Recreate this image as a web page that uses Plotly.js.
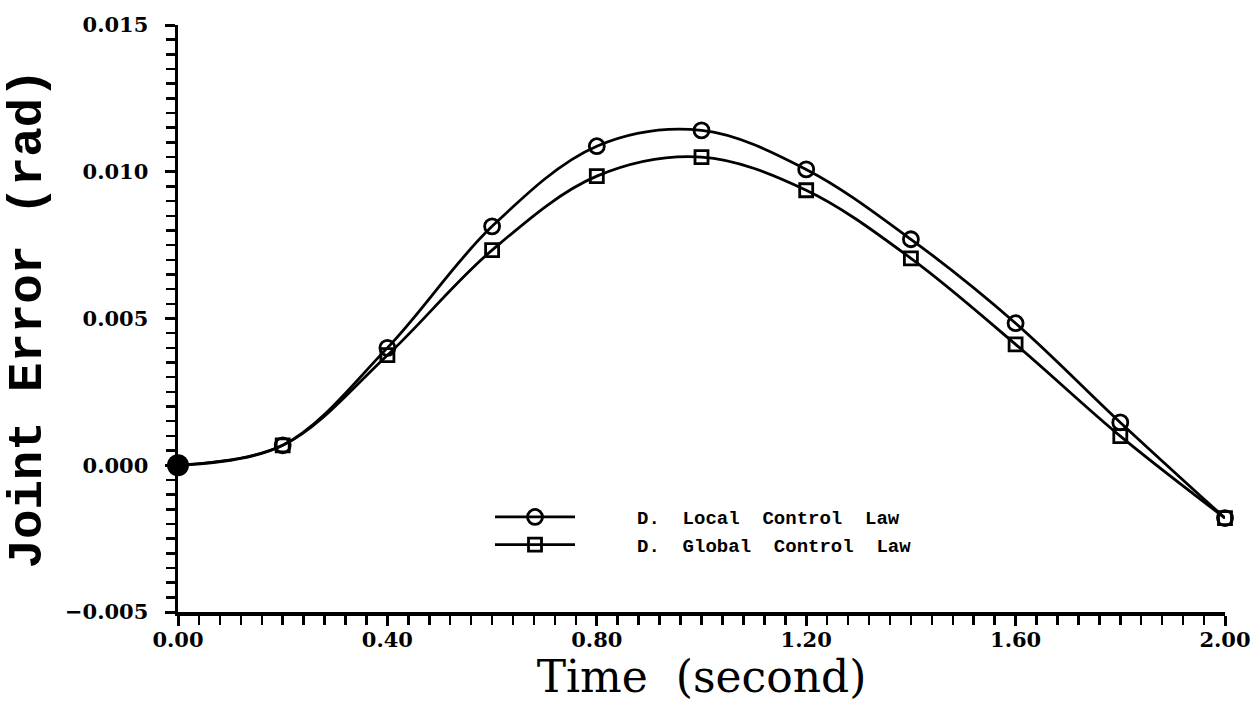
<!DOCTYPE html>
<html>
<head>
<meta charset="utf-8">
<script src="https://cdn.plot.ly/plotly-3.0.1.min.js"></script>
<style>html,body{margin:0;padding:0;background:#fff;}#chart{width:1257px;height:702px;}</style>
</head>
<body>
<div id="chart"></div>
<script>
const time = [0.0, 0.2, 0.4, 0.6, 0.8, 1.0, 1.2, 1.4, 1.6, 1.8, 2.0];
const localLaw = [0.0, 0.00068, 0.0040, 0.00814, 0.01087, 0.01141, 0.01008, 0.0077, 0.00484, 0.00146, -0.0018];
const globalLaw = [0.0, 0.00068, 0.00375, 0.00733, 0.00985, 0.0105, 0.00937, 0.00705, 0.00412, 0.00099, -0.0018];
const startX = [0.0];
const startY = [0.0];
const xTickVals = [0.0, 0.4, 0.8, 1.2, 1.6, 2.0];
const xTickText = ["0.00", "0.40", "0.80", "1.20", "1.60", "2.00"];
const yTickVals = [-0.005, 0.0, 0.005, 0.010, 0.015];
const yTickText = ["\u22120.005", "0.000", "0.005", "0.010", "0.015"];
const pad = "\u00a0\u00a0\u00a0\u00a0\u00a0";
const names = [pad + "D.\u00a0\u00a0Local\u00a0\u00a0Control\u00a0\u00a0Law", pad + "D.\u00a0\u00a0Global\u00a0\u00a0Control\u00a0\u00a0Law"];

const traces = [
  {x: time, y: localLaw, name: names[0], mode: 'lines+markers', cliponaxis: false,
   line: {color: '#000', width: 2.8, shape: 'spline', smoothing: 1},
   marker: {symbol: 'circle-open', size: 15, color: '#000', line: {width: 2.8, color: '#000'}}},
  {x: time, y: globalLaw, name: names[1], mode: 'lines+markers', cliponaxis: false,
   line: {color: '#000', width: 2.8, shape: 'spline', smoothing: 1},
   marker: {symbol: 'square-open', size: 13, color: '#000', line: {width: 2.8, color: '#000'}}},
  {x: startX, y: startY, mode: 'markers', showlegend: false, hoverinfo: 'skip', cliponaxis: false,
   marker: {symbol: 'circle', size: 22, color: '#000'}}
];

const tickFont = {family: 'DejaVu Serif', size: 21, color: '#000', weight: 'bold'};
const layout = {
  width: 1257, height: 702,
  margin: {l: 178, r: 32, t: 25, b: 90},
  paper_bgcolor: '#fff', plot_bgcolor: '#fff',
  showlegend: true,
  legend: {x: 0.298, y: 0.194, xanchor: 'left', yanchor: 'top', bgcolor: 'rgba(0,0,0,0)',
           font: {family: 'Liberation Mono', size: 19, color: '#000', weight: 'bold'},
           itemwidth: 80, tracegroupgap: 0},
  xaxis: {range: [0, 2.0], tickvals: xTickVals, ticktext: xTickText, ticks: 'outside',
          ticklen: 10, tickwidth: 3, tickcolor: '#000', showline: true, linewidth: 3.5, linecolor: '#000',
          showgrid: false, zeroline: false, tickfont: tickFont, ticklabelstandoff: -4,
          minor: {dtick: 0.04, ticks: 'outside', ticklen: 9, tickwidth: 2.5, tickcolor: '#000'},
          title: {text: 'Time  (second)', font: {family: 'DejaVu Serif', size: 44, color: '#000'}, standoff: 2}},
  yaxis: {range: [-0.005, 0.015], tickvals: yTickVals, ticktext: yTickText, ticks: 'outside',
          ticklen: 10, tickwidth: 3, tickcolor: '#000', showline: true, linewidth: 3.5, linecolor: '#000',
          showgrid: false, zeroline: false, tickfont: tickFont, ticklabelstandoff: 12,
          minor: {dtick: 0.0005, ticks: 'outside', ticklen: 9, tickwidth: 2.5, tickcolor: '#000'},
          title: {text: 'Joint Error (rad)', font: {family: 'Liberation Mono', size: 49, color: '#000', weight: 'bold'}, standoff: 10}}
};
Plotly.newPlot('chart', traces, layout, {staticPlot: true, displayModeBar: false});
</script>
</body>
</html>
